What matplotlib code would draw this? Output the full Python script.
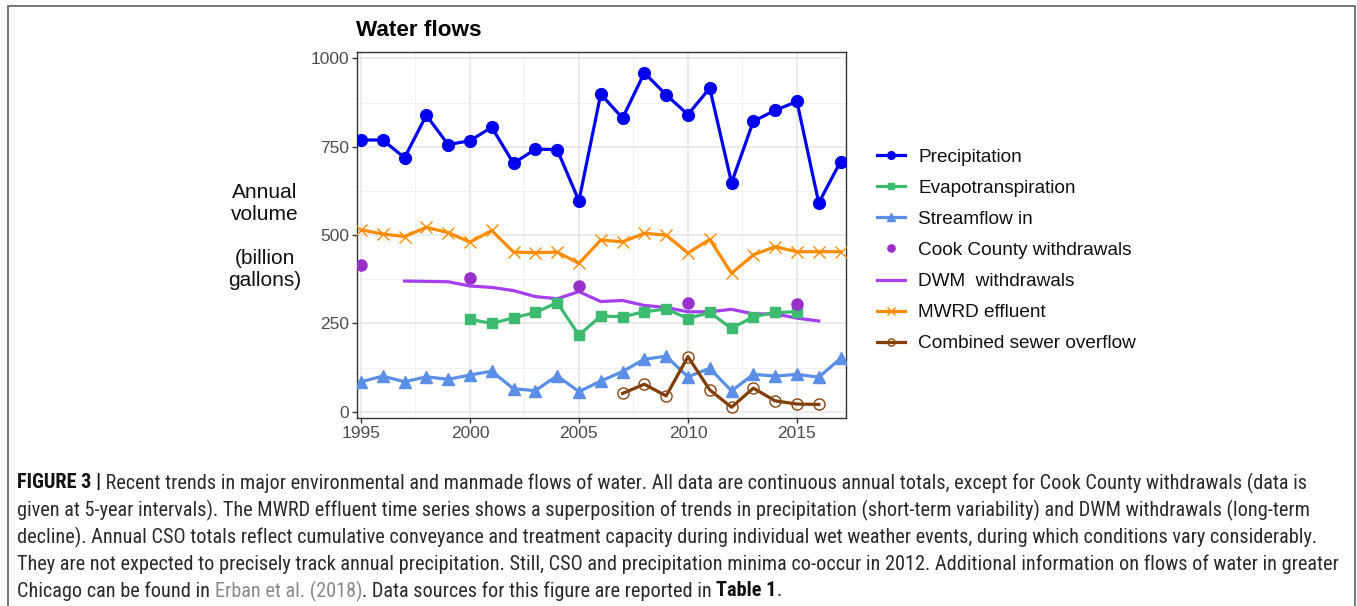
import matplotlib
matplotlib.use("Agg")
import matplotlib.pyplot as plt
from matplotlib import font_manager
from matplotlib.patches import Rectangle

# ---------------- data ----------------
years_precip = list(range(1995, 2018))
precipitation = [769, 769, 719, 839, 756, 767, 805, 703, 743, 742, 597,
                 899, 831, 959, 897, 841, 916, 648, 822, 853, 878, 591, 708]

years_et = list(range(2000, 2016))
evapotranspiration = [262, 250, 266, 281, 309, 217, 271, 269, 283, 291,
                      264, 281, 236, 269, 281, 283]

years_stream = list(range(1995, 2018))
streamflow_in = [85, 101, 85, 99, 92, 104, 115, 65, 60, 102, 57,
                 87, 114, 149, 157, 99, 123, 59, 106, 101, 106, 98, 151]

years_cook = [1995, 2000, 2005, 2010, 2015]
cook_withdrawals = [414, 380, 356, 309, 305]

years_dwm = list(range(1997, 2017))
dwm_withdrawals = [370, 369, 368, 356, 352, 343, 326, 320, 340, 312,
                   315, 301, 295, 283, 283, 290, 277, 277, 265, 257]

years_mwrd = list(range(1995, 2018))
mwrd_effluent = [515, 503, 496, 522, 507, 480, 513, 452, 450, 452, 420,
                 486, 481, 505, 500, 449, 488, 392, 444, 467, 453, 453, 453]

years_cso = list(range(2007, 2017))
cso = [52, 78, 45, 156, 62, 13, 67, 31, 22, 21]

x_ticks = [1995, 2000, 2005, 2010, 2015]
y_ticks = [0, 250, 500, 750, 1000]

series_labels = ["Precipitation", "Evapotranspiration", "Streamflow in",
                 "Cook County withdrawals", "DWM  withdrawals",
                 "MWRD effluent", "Combined sewer overflow"]

caption_lines = [
    [("FIGURE 3 |", "bold", "#111111"),
     (" Recent trends in major environmental and manmade flows of water. All data are continuous annual totals, except for Cook County withdrawals (data is", "normal", "#2a2a2a")],
    [("given at 5-year intervals). The MWRD effluent time series shows a superposition of trends in precipitation (short-term variability) and DWM withdrawals (long-term", "normal", "#2a2a2a")],
    [("decline). Annual CSO totals reflect cumulative conveyance and treatment capacity during individual wet weather events, during which conditions vary considerably.", "normal", "#2a2a2a")],
    [("They are not expected to precisely track annual precipitation. Still, CSO and precipitation minima co-occur in 2012. Additional information on flows of water in greater", "normal", "#2a2a2a")],
    [("Chicago can be found in ", "normal", "#2a2a2a"),
     ("Erban et al. (2018)", "normal", "#8a8a8a"),
     (". Data sources for this figure are reported in ", "normal", "#2a2a2a"),
     ("Table 1", "bold", "#111111"),
     (".", "normal", "#2a2a2a")],
]

# ---------------- figure ----------------
W, H = 1357, 606
fig = plt.figure(figsize=(W / 100, H / 100), dpi=100)
fig.patch.set_facecolor("white")

plt.rcParams["font.family"] = ["Liberation Sans", "DejaVu Sans"]

def fx(px):
    return px / W

def fy(py):
    return 1 - py / H

# outer border (bottom edge lies below the picture)
fig.add_artist(Rectangle((fx(8), fy(640)), fx(1355) - fx(8), fy(6) - fy(640),
                         transform=fig.transFigure, fill=False,
                         edgecolor="#6a6a6a", lw=1.3, clip_on=False))

ax_l, ax_r, ax_t, ax_b = 357, 846, 52, 418
ax = fig.add_axes([fx(ax_l), fy(ax_b), fx(ax_r) - fx(ax_l), fy(ax_t) - fy(ax_b)])

ax.set_xlim(1994.82, 2017.25)
ax.set_ylim(-17.5, 1018)
ax.set_xticks(x_ticks)
ax.set_yticks(y_ticks)
ax.set_xticks([1997.5, 2002.5, 2007.5, 2012.5], minor=True)
ax.set_yticks([125, 375, 625, 875], minor=True)
ax.grid(True, which="major", color="#e6e6e6", lw=1.1, zorder=0)
ax.grid(True, which="minor", color="#f0f0f0", lw=0.7, zorder=0)
ax.tick_params(which="minor", length=0)
ax.tick_params(which="major", length=3.5, width=1, color="#333333",
               labelcolor="#4d4d4d", labelsize=12.5, pad=2)
for sp in ax.spines.values():
    sp.set_color("#333333")
    sp.set_linewidth(1.0)
ax.set_axisbelow(True)

lw = 2.3
h_pre, = ax.plot(years_precip, precipitation, color="#0000ee", lw=lw,
                 marker="o", ms=8.5, zorder=5)
h_et, = ax.plot(years_et, evapotranspiration, color="#3cba6f", lw=lw,
                marker="s", ms=7.0, zorder=4)
h_st, = ax.plot(years_stream, streamflow_in, color="#5b8ee6", lw=lw,
                marker="^", ms=8.5, zorder=4)
h_ck, = ax.plot(years_cook, cook_withdrawals, color="#9a30cc", lw=0,
                marker="o", ms=8.0, zorder=5)
h_dwm, = ax.plot(years_dwm, dwm_withdrawals, color="#a63ff0", lw=lw, zorder=3)
h_mw, = ax.plot(years_mwrd, mwrd_effluent, color="#ff8c00", lw=lw,
                marker="x", ms=8, mew=1.0, zorder=4)
h_cso, = ax.plot(years_cso, cso, color="#7f3d00", lw=lw, marker="o", ms=8,
                 mfc="none", mec="#8b4513", mew=1.0, zorder=5)

leg = fig.legend([h_pre, h_et, h_st, h_ck, h_dwm, h_mw, h_cso], series_labels,
                 loc="center left", bbox_to_anchor=(fx(877), fy(250.5)),
                 bbox_transform=fig.transFigure, frameon=False,
                 fontsize=13.7, handlelength=1.45, handletextpad=0.72,
                 labelspacing=0.72, borderpad=0, borderaxespad=0,
                 markerscale=0.65)
for t in leg.get_texts():
    t.set_color("#111111")

# title
fig.text(fx(356), fy(30), "Water flows", fontsize=16.2, fontweight="bold",
         ha="left", va="center", color="#000000")

# y label
fig.text(fx(265), fy(236), "Annual\nvolume\n\n(billion\ngallons)",
         fontsize=15, ha="center", va="center", multialignment="center",
         linespacing=1.2, color="#111111")

# ---------------- caption ----------------
avail = {f.name for f in font_manager.fontManager.ttflist}
if "Roboto Condensed" in avail:
    cap_font = ["Roboto Condensed", "DejaVu Sans"]
elif "Liberation Sans Narrow" in avail:
    cap_font = ["Liberation Sans Narrow", "DejaVu Sans"]
else:
    cap_font = ["Roboto", "DejaVu Sans"]

renderer = fig.canvas.get_renderer()

def line_width(segs, size):
    total = 0
    for txt, wt, col in segs:
        t = fig.text(0, 0, txt, fontsize=size, fontweight=wt, family=cap_font)
        total += t.get_window_extent(renderer).width
        t.remove()
    return total

base = 12
cap_size = base * (1333 - 17) / line_width(caption_lines[3], base)

line_ys = [483, 510, 537, 564, 591]
for segs, ly in zip(caption_lines, line_ys):
    x = 17
    for txt, wt, col in segs:
        t = fig.text(fx(x), fy(ly), txt, fontsize=cap_size, fontweight=wt,
                     family=cap_font, color=col, ha="left", va="center")
        x += t.get_window_extent(renderer).width

fig.savefig("out.png", dpi=100, facecolor="white")
